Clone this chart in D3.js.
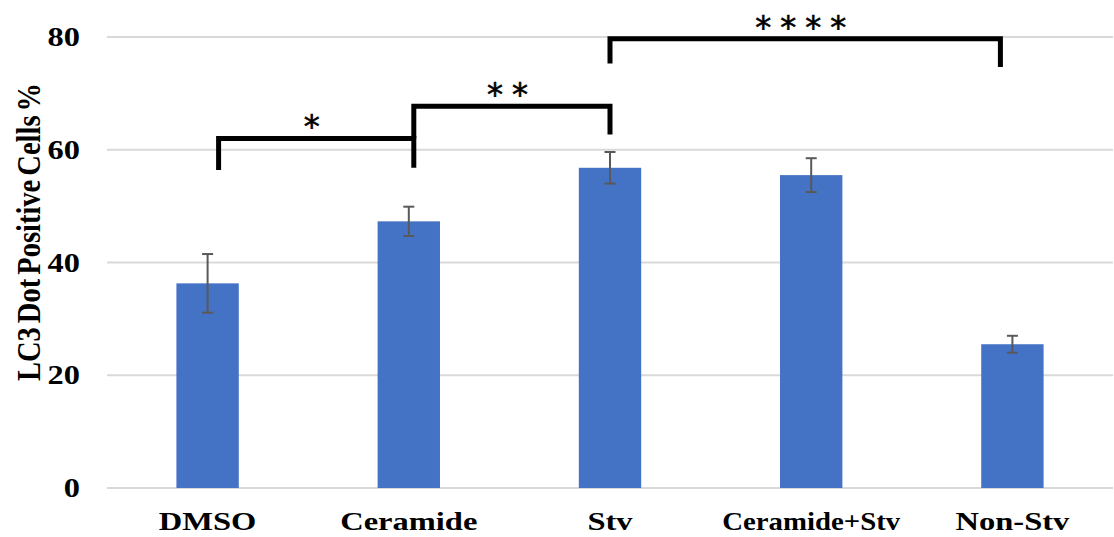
<!DOCTYPE html>
<html>
<head>
<meta charset="utf-8">
<script src="https://cdn.jsdelivr.net/npm/d3@7"></script>
<style>
  html, body { margin: 0; padding: 0; background: #fff; }
  svg { display: block; }
</style>
</head>
<body>
<svg id="chart" width="1114" height="537"></svg>
<script>
// Treatment groups and LC3 dot-positive cell percentages (mean ± error)
const categories = ["DMSO", "Ceramide", "Stv", "Ceramide+Stv", "Non-Stv"];
const means = [36.3, 47.3, 56.8, 55.5, 25.5];
const errors = [5.2, 2.6, 2.8, 3.0, 1.5];
const yTicks = [0, 20, 40, 60, 80];

// Significance brackets: groups compared, bar level and leg ends (in % units)
const bracketFrom = ["DMSO", "Ceramide", "Stv"];
const bracketTo = ["Ceramide", "Stv", "Non-Stv"];
const bracketLevel = [62.0, 67.7, 79.7];
const bracketLegFrom = [56.4, 62.0, 75.3];
const bracketLegTo = [56.8, 62.7, 74.7];
const bracketLabels = ["*", "**", "****"];

const svg = d3.select("#chart");
const margin = { left: 107, right: 1, top: 37, bottom: 49 };
const W = 1114, H = 537;
const serif = "'Liberation Serif', 'Times New Roman', serif";
const wide = 1.25; // horizontal widening of the serif labels

const x = d3.scaleBand()
  .domain(categories)
  .range([margin.left, W - margin.right])
  .paddingInner(0.69)
  .paddingOuter(0.345);

const y = d3.scaleLinear()
  .domain([0, 80])
  .range([H - margin.bottom, margin.top]);

// Gridlines
svg.append("g")
  .selectAll("line")
  .data(yTicks)
  .join("line")
  .attr("x1", margin.left)
  .attr("x2", W - margin.right)
  .attr("y1", d => y(d))
  .attr("y2", d => y(d))
  .attr("stroke", "#d9d9d9")
  .attr("stroke-width", 2);

// Y axis tick labels
const yAxis = d3.axisLeft(y).tickValues(yTicks).tickSize(0).tickPadding(0);
const gy = svg.append("g")
  .attr("transform", `translate(80,0)`)
  .call(yAxis);
gy.select(".domain").remove();
gy.selectAll("text")
  .attr("x", 0)
  .attr("font-family", serif)
  .attr("font-weight", "bold")
  .attr("font-size", 27)
  .attr("fill", "#000")
  .attr("transform", `scale(${wide * 0.96},1)`);

// Y axis title
svg.append("text")
  .attr("transform", `translate(30,232) rotate(-90) scale(1,1.2)`)
  .attr("text-anchor", "middle")
  .attr("dy", "0.3em")
  .attr("font-family", serif)
  .attr("font-weight", "bold")
  .attr("font-size", 28.5)
  .attr("word-spacing", -3)
  .attr("fill", "#000")
  .text("LC3 Dot Positive Cells %");

// Bars
svg.append("g")
  .selectAll("rect")
  .data(categories)
  .join("rect")
  .attr("x", d => x(d))
  .attr("width", x.bandwidth())
  .attr("y", (d, i) => y(means[i]))
  .attr("height", (d, i) => y(0) - y(means[i]))
  .attr("fill", "#4472c4");

// Error bars
const eb = svg.append("g")
  .attr("stroke", "#595959")
  .attr("stroke-width", 2);
categories.forEach((c, i) => {
  const cx = x(c) + x.bandwidth() / 2;
  const top = y(means[i] + errors[i]);
  const bot = y(means[i] - errors[i]);
  eb.append("line").attr("x1", cx).attr("x2", cx).attr("y1", top).attr("y2", bot);
  eb.append("line").attr("x1", cx - 5.5).attr("x2", cx + 5.5).attr("y1", top).attr("y2", top);
  eb.append("line").attr("x1", cx - 5.5).attr("x2", cx + 5.5).attr("y1", bot).attr("y2", bot);
});

// X axis category labels (widened, but long labels are squeezed to fit)
const xAxis = d3.axisBottom(x).tickSize(0).tickPadding(0);
const gx = svg.append("g")
  .attr("transform", `translate(0,${H - 7})`)
  .call(xAxis);
gx.select(".domain").remove();
const maxLabel = 178;
gx.selectAll("text")
  .attr("dy", 0)
  .attr("font-family", serif)
  .attr("font-weight", "bold")
  .attr("font-size", 26)
  .attr("fill", "#000")
  .attr("transform", function () {
    const len = this.getComputedTextLength();
    const s = Math.min(wide, maxLabel / len);
    return `scale(${s},1)`;
  });

// Significance brackets
const legNudge = [[11, 5], [5, 0], [0, -12]];
const starSpacing = 9;
const bg = svg.append("g");
bracketLabels.forEach((lab, i) => {
  const x1 = x(bracketFrom[i]) + x.bandwidth() / 2 + legNudge[i][0];
  const x2 = x(bracketTo[i]) + x.bandwidth() / 2 + legNudge[i][1];
  const yl = y(bracketLevel[i]);
  bg.append("path")
    .attr("d", `M${x1},${y(bracketLegFrom[i])}V${yl}H${x2}V${y(bracketLegTo[i])}`)
    .attr("fill", "none")
    .attr("stroke", "#000")
    .attr("stroke-width", 5)
    .attr("stroke-linejoin", "miter");
  bg.append("text")
    .attr("x", (x1 + x2) / 2)
    .attr("y", yl - 1)
    .attr("text-anchor", "middle")
    .attr("font-family", "'DejaVu Sans', sans-serif")
    .attr("font-size", 32)
    .attr("letter-spacing", starSpacing)
    .attr("fill", "#000")
    .attr("stroke", "#000")
    .attr("stroke-width", 0.6)
    .text(lab);
});
</script>
</body>
</html>
